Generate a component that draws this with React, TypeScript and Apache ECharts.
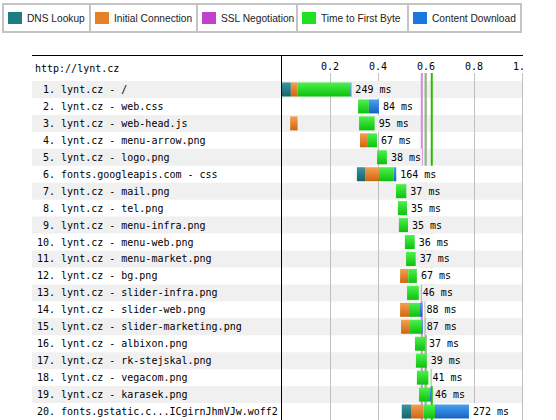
import React, { useEffect, useRef } from "react";
import * as echarts from "echarts";

// Request names (row labels)
const requestNames: string[] = [
  "lynt.cz - /",
  "lynt.cz - web.css",
  "lynt.cz - web-head.js",
  "lynt.cz - menu-arrow.png",
  "lynt.cz - logo.png",
  "fonts.googleapis.com - css",
  "lynt.cz - mail.png",
  "lynt.cz - tel.png",
  "lynt.cz - menu-infra.png",
  "lynt.cz - menu-web.png",
  "lynt.cz - menu-market.png",
  "lynt.cz - bg.png",
  "lynt.cz - slider-infra.png",
  "lynt.cz - slider-web.png",
  "lynt.cz - slider-marketing.png",
  "lynt.cz - albixon.png",
  "lynt.cz - rk-stejskal.png",
  "lynt.cz - vegacom.png",
  "lynt.cz - karasek.png",
  "fonts.gstatic.c...ICgirnJhmVJw.woff2",
];

const pageUrl = "http://lynt.cz";

type Span = [number, number] | null;

// Phase spans in seconds, one entry per request
const dnsLookup: Span[] = [
  [0, 0.037], null, null, null, null,
  [0.312, 0.346], null, null, null, null,
  null, null, null, null, null,
  null, null, null, null, [0.499, 0.5375],
];
const initialConnection: Span[] = [
  [0.037, 0.065], null, [0.034, 0.065], [0.325, 0.358], null,
  [0.346, 0.404], null, null, null, null,
  null, [0.492, 0.526], null, [0.492, 0.529], [0.496, 0.533],
  null, null, null, null, [0.5375, 0.589],
];
const sslNegotiation: Span[] = [
  null, null, null, null, null,
  null, null, null, null, null,
  null, null, null, null, null,
  null, null, null, null, null,
];
const timeToFirstByte: Span[] = [
  [0.065, 0.285], [0.317, 0.362], [0.321, 0.386], [0.358, 0.396], [0.396, 0.437],
  [0.404, 0.465], [0.475, 0.518], [0.483, 0.521], [0.487, 0.525], [0.512, 0.553],
  [0.517, 0.557], [0.526, 0.562], [0.521, 0.57], [0.529, 0.575], [0.533, 0.582],
  [0.554, 0.596], [0.558, 0.603], [0.562, 0.61], [0.571, 0.617], [0.589, 0.6375],
];
const contentDownload: Span[] = [
  [0.285, 0.289], [0.362, 0.404], null, null, null,
  [0.465, 0.476], null, null, null, null,
  null, null, null, [0.575, 0.585], [0.582, 0.586],
  null, null, null, [0.617, 0.621], [0.6375, 0.779],
];

const durationsMs: number[] = [249, 84, 95, 67, 38, 164, 37, 35, 35, 36, 37, 67, 46, 88, 87, 37, 39, 41, 46, 272];

// Page event markers (seconds) and colours
const eventTimes: number[] = [0.5825, 0.598, 0.624];
const eventColors: string[] = ["#d888df", "#8fbc83", "#28bc00"];

const tickLabels: Record<string, string> = { "0": "", "0.2": "0.2", "0.4": "0.4", "0.6": "0.6", "0.8": "0.8", "1": "1.\u00A0" };

const phaseNames = ["DNS Lookup", "Initial Connection", "SSL Negotiation", "Time to First Byte", "Content Download"];
const phaseData: Span[][] = [dnsLookup, initialConnection, sslNegotiation, timeToFirstByte, contentDownload];
const phaseColors = ["#1f7c83", "#e58226", "#c141cd", "#1fe11f", "#1977dd"];
const phaseTop = ["#3a969d", "#f4a04f", "#d46ae0", "#4ef04e", "#4aa0f0"];
const phaseBottom = ["#166469", "#cf6610", "#a52eb0", "#0cc20c", "#1463c4"];

// Legend table layout (cell left edge, cell width)
const legendCells: [number, number][] = [
  [3, 87],
  [90, 107],
  [197, 100],
  [297, 111],
  [408, 113],
];

const MONO = "DejaVu Sans Mono";

export default function App() {
  const ref = useRef<HTMLDivElement>(null);

  useEffect(() => {
    if (!ref.current) return;
    const chart = echarts.init(ref.current, undefined, { renderer: "svg" });

    const rowEnds = requestNames.map((_, i) => {
      let m = 0;
      phaseData.forEach((p) => {
        const s = p[i];
        if (s && s[1] > m) m = s[1];
      });
      return m;
    });

    const barSeries = phaseNames.map((name, k) => ({
      type: "custom",
      name,
      xAxisIndex: 1,
      yAxisIndex: 1,
      z: 3,
      clip: false,
      itemStyle: { color: phaseColors[k] },
      encode: { x: [0, 1], y: 2 },
      data: phaseData[k]
        .map((s, i) => (s ? [s[0], s[1], i] : null))
        .filter((d) => d !== null),
      renderItem: (params: any, api: any) => {
        const a = api.coord([api.value(0), api.value(2)]);
        const b = api.coord([api.value(1), api.value(2)]);
        const h = 14;
        return {
          type: "rect",
          shape: { x: a[0], y: a[1] - h / 2, width: Math.max(b[0] - a[0], 1), height: h },
          style: {
            fill: new echarts.graphic.LinearGradient(0, 0, 0, 1, [
              { offset: 0, color: phaseTop[k] },
              { offset: 1, color: phaseBottom[k] },
            ]),
          },
        };
      },
    }));

    const option: any = {
      animation: false,
      backgroundColor: "#ffffff",
      legend: phaseNames.map((name, k) => ({
        left: legendCells[k][0] + 5,
        top: 12,
        padding: 0,
        itemWidth: 14,
        itemHeight: 12,
        icon: "rect",
        selectedMode: false,
        data: [name],
        textStyle: { fontFamily: "Liberation Sans", fontSize: 10.2, color: "#222" },
      })),
      grid: [
        { left: 282, top: 73, width: 240, height: 8 },
        { left: 282, top: 81, width: 240, height: 340 },
      ],
      xAxis: [0, 1].map((g) => ({
        type: "value",
        gridIndex: g,
        min: 0,
        max: 1,
        interval: 0.2,
        position: "top",
        z: 1,
        axisLine: { show: false },
        axisTick: { show: false },
        splitLine: { show: true, showMinLine: false, lineStyle: { color: "#c0c0c0", width: 1 } },
        axisLabel: {
          show: g === 0,
          margin: 2,
          fontFamily: MONO,
          fontSize: 10,
          color: "#000",
          formatter: (v: number) => tickLabels[String(Math.round(v * 10) / 10)] ?? "",
        },
      })),
      yAxis: [
        { type: "category", gridIndex: 0, show: false, data: [""] },
        {
          type: "category",
          gridIndex: 1,
          inverse: true,
          data: requestNames,
          axisLine: { show: false },
          axisTick: { show: false },
          splitLine: { show: false },
          axisLabel: {
            interval: 0,
            align: "left",
            margin: 245,
            fontFamily: MONO,
            fontSize: 10,
            color: "#000",
            formatter: (v: string, i: number) => (i + 1 < 10 ? "\u00A0" : "") + (i + 1) + ". " + v,
          },
        },
      ],
      series: [
        {
          type: "custom",
          name: "stripes",
          xAxisIndex: 1,
          yAxisIndex: 1,
          z: 0,
          clip: false,
          silent: true,
          data: requestNames.map((_, i) => [0, i]).filter((d) => d[1] % 2 === 0),
          renderItem: (params: any, api: any) => {
            const c = api.coord([0, api.value(1)]);
            const cs = params.coordSys;
            return {
              type: "rect",
              shape: { x: 32, y: c[1] - 8.5, width: cs.x + cs.width + 1 - 32, height: 17 },
              style: { fill: "#f0f0f0" },
            };
          },
        },
        {
          type: "custom",
          name: "events",
          xAxisIndex: 1,
          yAxisIndex: 1,
          z: 2,
          clip: false,
          silent: true,
          data: eventTimes.map((t, i) => [t, 0, i]),
          renderItem: (params: any, api: any) => {
            const x = api.coord([api.value(0), 0])[0];
            const cs = params.coordSys;
            return {
              type: "line",
              shape: { x1: x, y1: cs.y - 8, x2: x, y2: cs.y + cs.height },
              style: { stroke: eventColors[api.value(2)], lineWidth: 2 },
            };
          },
        },
        ...barSeries,
        {
          type: "custom",
          name: "labels",
          xAxisIndex: 1,
          yAxisIndex: 1,
          z: 4,
          clip: false,
          silent: true,
          data: requestNames.map((_, i) => [rowEnds[i], i, durationsMs[i]]),
          renderItem: (params: any, api: any) => {
            const idx = api.value(1);
            const c = api.coord([api.value(0), idx]);
            return {
              type: "text",
              x: c[0] + 3,
              y: c[1],
              style: {
                text: api.value(2) + " ms",
                fontFamily: MONO,
                fontSize: 10,
                fill: "#000",
                align: "left",
                verticalAlign: "middle",
                lineHeight: 17,
                padding: [0, 1, 0, 1],
                backgroundColor: idx % 2 === 0 ? "#f0f0f0" : "#ffffff",
              },
            };
          },
        },
      ],
      graphic: [
        ...legendCells.map(([x, w]) => ({
          type: "rect",
          z: 5,
          silent: true,
          shape: { x, y: 4, width: w, height: 28 },
          style: { fill: "transparent", stroke: "#c4c4c4", lineWidth: 2 },
        })),
        {
          type: "line",
          z: 10,
          silent: true,
          shape: { x1: 32, y1: 55.5, x2: 523, y2: 55.5 },
          style: { stroke: "#000", lineWidth: 1 },
        },
        {
          type: "line",
          z: 10,
          silent: true,
          shape: { x1: 281.5, y1: 55, x2: 281.5, y2: 420 },
          style: { stroke: "#000", lineWidth: 1 },
        },
        {
          type: "text",
          z: 10,
          silent: true,
          x: 35,
          y: 68,
          style: {
            text: pageUrl,
            fontFamily: MONO,
            fontSize: 10,
            fill: "#000",
            verticalAlign: "middle",
          },
        },
      ],
    };

    chart.setOption(option);
    return () => chart.dispose();
  }, []);

  return <div ref={ref} style={{ position: "fixed", left: 0, top: 0, width: 556, height: 420 }} />;
}
